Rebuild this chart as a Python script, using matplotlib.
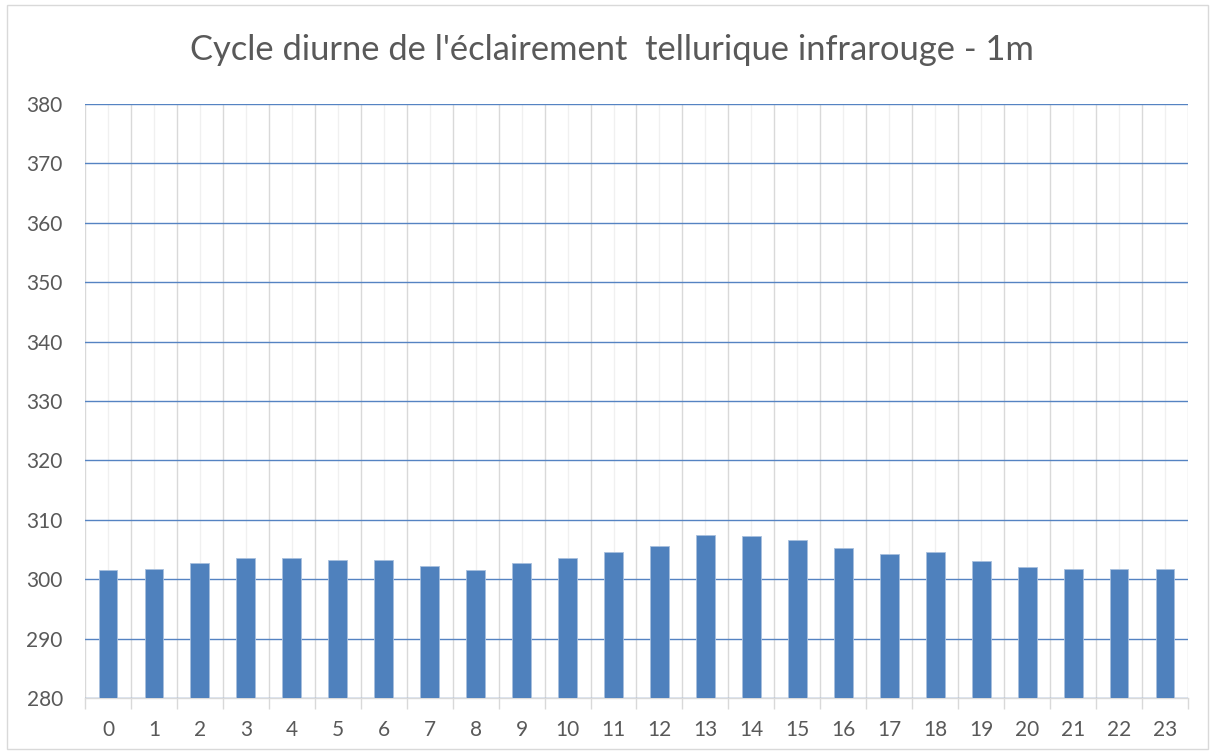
import matplotlib
matplotlib.use("Agg")
import matplotlib.pyplot as plt
from matplotlib.patches import Rectangle
import numpy as np

hours = list(range(24))
values = [301.5, 301.8, 302.8, 303.6, 303.6, 303.3, 303.3, 302.3, 301.5, 302.8,
          303.6, 304.5, 305.6, 307.4, 307.2, 306.6, 305.3, 304.2, 304.5, 303.1,
          302.0, 301.8, 301.8, 301.8]
title = "Cycle diurne de l'éclairement  tellurique infrarouge - 1m"
y_ticks = list(range(280, 381, 10))

plt.rcParams['font.family'] = ['Lato', 'DejaVu Sans']

W, H = 1212, 753
fig = plt.figure(figsize=(W / 100, H / 100), dpi=100)
fig.patches.append(Rectangle((7 / W, 4 / H), 1201 / W, 744 / H, transform=fig.transFigure,
                             fill=False, edgecolor='#d9d9d9', linewidth=1.0))

ax = fig.add_axes([85 / W, 1 - 698 / H, (1188 - 85) / W, (698 - 104) / H])
ax.bar(hours, [v - 280 for v in values], bottom=280, width=0.41, color='#4f81bd',
       edgecolor='#a8c0de', linewidth=0.6, zorder=3)

ax.set_xlim(-0.5, 23.5)
ax.set_ylim(280, 380)
ax.set_yticks(y_ticks)
ax.set_xticks(hours)
ax.set_xticklabels([str(h) for h in hours])
ax.set_xticks(np.arange(-0.5, 24, 1), minor=True)

ax.grid(axis='y', which='major', color='#5583c2', linewidth=1.0, zorder=1)
ax.grid(axis='x', which='major', color='#f0f0f0', linewidth=1.0, zorder=0)
ax.grid(axis='x', which='minor', color='#d9d9d9', linewidth=1.0, zorder=0)

ax.tick_params(axis='x', which='major', length=0, labelsize=15, labelcolor='#595959', pad=16)
ax.tick_params(axis='x', which='minor', length=8, color='#d9d9d9', width=1.0)
ax.tick_params(axis='y', which='major', length=0, labelsize=15, labelcolor='#595959', pad=16)

for s in ['top', 'right', 'left']:
    ax.spines[s].set_visible(False)
ax.spines['bottom'].set_color('#d9d9d9')
ax.spines['bottom'].set_linewidth(1.0)

fig.text(0.505, 1 - 50 / H, title, ha='center', va='center', fontsize=24.8, color='#595959')

fig.savefig('out.png', dpi=100)
